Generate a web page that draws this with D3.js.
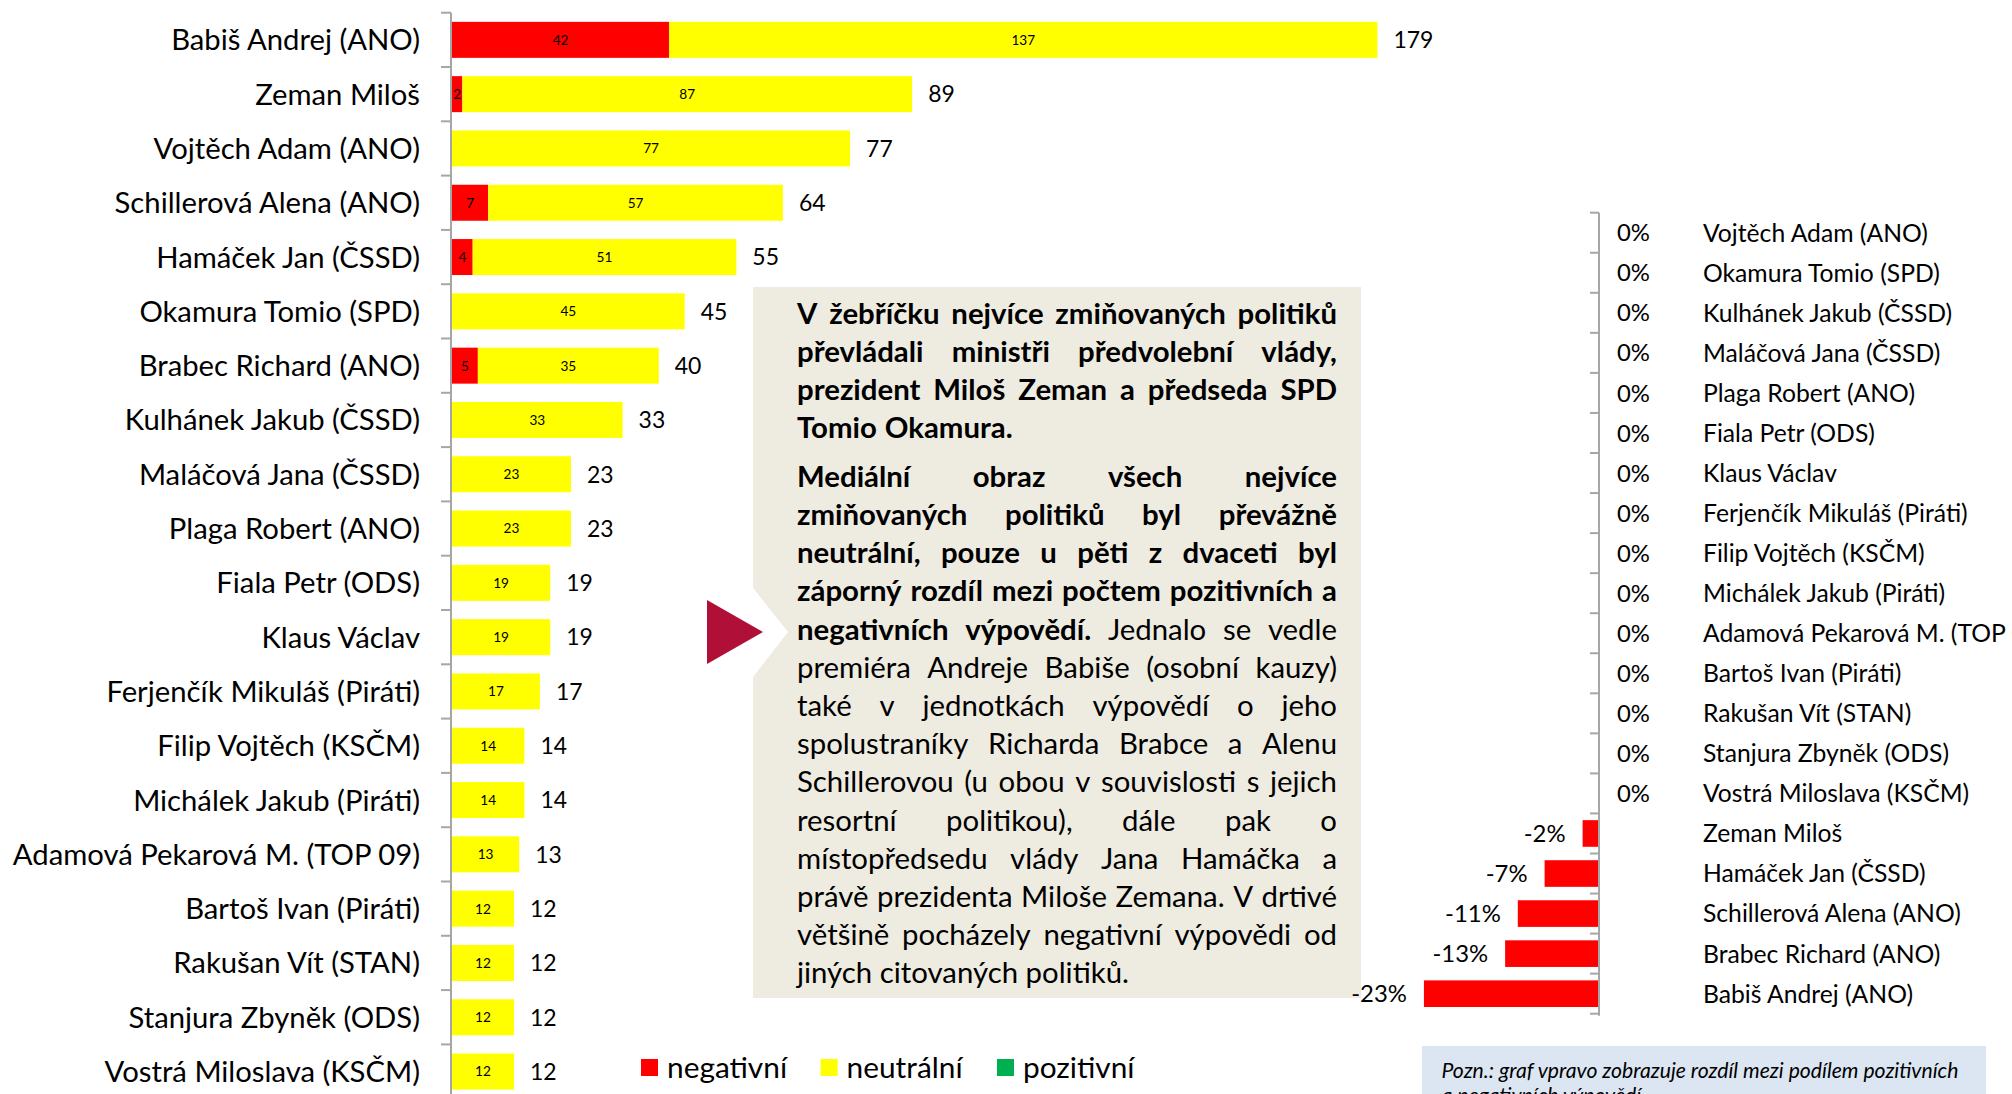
<!DOCTYPE html>
<html><head><meta charset="utf-8">
<script src="https://cdn.jsdelivr.net/npm/d3@7"></script>
<style>html,body{margin:0;padding:0;background:#fff;overflow:hidden}svg{display:block}</style>
</head><body>
<script>
// ---------- DATA ----------
const categories = ["Babiš Andrej (ANO)","Zeman Miloš","Vojtěch Adam (ANO)","Schillerová Alena (ANO)","Hamáček Jan (ČSSD)","Okamura Tomio (SPD)","Brabec Richard (ANO)","Kulhánek Jakub (ČSSD)","Maláčová Jana (ČSSD)","Plaga Robert (ANO)","Fiala Petr (ODS)","Klaus Václav","Ferjenčík Mikuláš (Piráti)","Filip Vojtěch (KSČM)","Michálek Jakub (Piráti)","Adamová Pekarová M. (TOP 09)","Bartoš Ivan (Piráti)","Rakušan Vít (STAN)","Stanjura Zbyněk (ODS)","Vostrá Miloslava (KSČM)"];
const negativni = [42,2,0,7,4,0,5,0,0,0,0,0,0,0,0,0,0,0,0,0];
const neutralni = [137,87,77,57,51,45,35,33,23,23,19,19,17,14,14,13,12,12,12,12];
const pozitivni = [0,0,0,0,0,0,0,0,0,0,0,0,0,0,0,0,0,0,0,0];
const seriesNames = ["negativní","neutrální","pozitivní"];

const diffCategories = ["Vojtěch Adam (ANO)","Okamura Tomio (SPD)","Kulhánek Jakub (ČSSD)","Maláčová Jana (ČSSD)","Plaga Robert (ANO)","Fiala Petr (ODS)","Klaus Václav","Ferjenčík Mikuláš (Piráti)","Filip Vojtěch (KSČM)","Michálek Jakub (Piráti)","Adamová Pekarová M. (TOP 09)","Bartoš Ivan (Piráti)","Rakušan Vít (STAN)","Stanjura Zbyněk (ODS)","Vostrá Miloslava (KSČM)","Zeman Miloš","Hamáček Jan (ČSSD)","Schillerová Alena (ANO)","Brabec Richard (ANO)","Babiš Andrej (ANO)"];
const diffValues = [0,0,0,0,0,0,0,0,0,0,0,0,0,0,0,-2.2,-7.3,-10.9,-12.6,-23.5];

const boxLines = [
  {t:"V žebříčku nejvíce zmiňovaných politiků", bold:99, just:true},
  {t:"převládali ministři předvolební vlády,", bold:99, just:true},
  {t:"prezident Miloš Zeman a předseda SPD", bold:99, just:true},
  {t:"Tomio Okamura.", bold:99, just:false, par:true},
  {t:"Mediální obraz všech nejvíce", bold:99, just:true},
  {t:"zmiňovaných politiků byl převážně", bold:99, just:true},
  {t:"neutrální, pouze u pěti z dvaceti byl", bold:99, just:true},
  {t:"záporný rozdíl mezi počtem pozitivních a", bold:99, just:true},
  {t:"negativních výpovědí. Jednalo se vedle", bold:2, just:true},
  {t:"premiéra Andreje Babiše (osobní kauzy)", bold:0, just:true},
  {t:"také v jednotkách výpovědí o jeho", bold:0, just:true},
  {t:"spolustraníky Richarda Brabce a Alenu", bold:0, just:true},
  {t:"Schillerovou (u obou v souvislosti s jejich", bold:0, just:true},
  {t:"resortní politikou), dále pak o", bold:0, just:true},
  {t:"místopředsedu vlády Jana Hamáčka a", bold:0, just:true},
  {t:"právě prezidenta Miloše Zemana. V drtivé", bold:0, just:true},
  {t:"většině pocházely negativní výpovědi od", bold:0, just:true},
  {t:"jiných citovaných politiků.", bold:0, just:false}
];
const noteLines = ["Pozn.: graf vpravo zobrazuje rozdíl mezi podílem pozitivních","a negativních výpovědí."];

// ---------- SETUP ----------
const W = 2012, H = 1094;
const FONT = "Lato, 'Open Sans', 'DejaVu Sans', sans-serif";
const colors = {neg:"#FF0000", neu:"#FFFF00", poz:"#00B050", axis:"#A6A6A6"};
const svg = d3.select("body").append("svg").attr("width", W).attr("height", H)
  .style("font-family", FONT);

function measure(str, size, weight, style){
  const t = svg.append("text").attr("font-size", size).attr("font-weight", weight||400)
    .attr("font-style", style||"normal").text(str);
  const w = t.node().getComputedTextLength(); t.remove(); return w;
}
function fit(str, target, weight, style){ return 100 * target / measure(str, 100, weight, style); }

// ---------- LEFT CHART ----------
const yL = d3.scaleBand().domain(categories).range([12.7, 12.7 + 20*54.3]).paddingInner(0.337).paddingOuter(0.1685);
const xL = d3.scaleLinear().domain([0, 180]).range([452, 452 + 180*5.17]);
const rows = categories.map((c,i)=>({c, neg:negativni[i], neu:neutralni[i], poz:pozitivni[i]}));
const stack = d3.stack().keys(["neg","neu","poz"])(rows);
const segColors = [colors.neg, colors.neu, colors.poz];

const gL = svg.append("g");
stack.forEach((layer, k)=>{
  gL.selectAll(null).data(layer.filter(d=>d[1]-d[0]>0)).enter().append("rect")
    .attr("x", d=>xL(d[0])).attr("width", d=>xL(d[1])-xL(d[0]))
    .attr("y", d=>yL(d.data.c)).attr("height", yL.bandwidth())
    .attr("fill", segColors[k]);
});
const innerSize = fit("137", 23.7);
stack.forEach((layer)=>{
  gL.selectAll(null).data(layer.filter(d=>d[1]-d[0]>0)).enter().append("text")
    .attr("x", d=>(xL(d[0])+xL(d[1]))/2).attr("y", d=>yL(d.data.c)+yL.bandwidth()/2)
    .attr("dy","0.36em").attr("text-anchor","middle").attr("font-size", innerSize).attr("fill","#000")
    .text(d=>d[1]-d[0]);
});
const totalSize = fit("179", 40);
gL.selectAll(null).data(rows).enter().append("text")
  .attr("x", d=>xL(d.neg+d.neu+d.poz)+16).attr("y", d=>yL(d.c)+yL.bandwidth()/2)
  .attr("dy","0.36em").attr("font-size", totalSize).attr("fill","#000")
  .text(d=>d.neg+d.neu+d.poz);
const catSize = fit("Babiš Andrej (ANO)", 249);
gL.selectAll(null).data(categories).enter().append("text")
  .attr("x", 420).attr("y", d=>yL(d)+yL.bandwidth()/2).attr("dy","0.36em")
  .attr("text-anchor","end").attr("font-size", catSize).attr("fill","#000").text(d=>d);
// axis
gL.append("line").attr("x1",451).attr("x2",451).attr("y1",yL.range()[0]).attr("y2",yL.range()[1])
  .attr("stroke",colors.axis).attr("stroke-width",2);
gL.selectAll(null).data(d3.range(21)).enter().append("line")
  .attr("x1",441).attr("x2",451).attr("y1",i=>yL.range()[0]+i*yL.step()).attr("y2",i=>yL.range()[0]+i*yL.step())
  .attr("stroke",colors.axis).attr("stroke-width",2);

// ---------- TEXT BOX ----------
svg.append("rect").attr("x",753).attr("y",287).attr("width",608).attr("height",711).attr("fill","#EEECE1");
svg.append("polygon").attr("points","753,588 788,632 753,677").attr("fill","#fff");
svg.append("polygon").attr("points","707,600 763,632 707,664").attr("fill","#B01038");

const boxSize = fit("jiných citovaných politiků.", 332);
const boxLeft = 797, boxRight = 1337;
const gB = svg.append("g").attr("font-size", boxSize).attr("fill","#000");
const spaceW = measure("a a", boxSize) - measure("aa", boxSize);
boxLines.forEach((ln, i)=>{
  const y = 313 + i*38.2 + (i>=4 ? 10.5 : 0);
  const words = ln.t.split(" ").map((w,j)=>({w, b: j < ln.bold}));
  words.forEach(o=>{ o.width = measure(o.w, boxSize, o.b?700:400); });
  const sum = d3.sum(words, o=>o.width);
  const gap = ln.just ? (boxRight-boxLeft-sum)/(words.length-1) : spaceW*(words.some(o=>o.b)?1.05:1);
  let x = boxLeft;
  words.forEach(o=>{
    gB.append("text").attr("x", x).attr("y", y).attr("dy","0.36em")
      .attr("font-weight", o.b?700:400).text(o.w);
    x += o.width + gap;
  });
});

// ---------- RIGHT CHART ----------
const yR = d3.scaleBand().domain(diffCategories).range([212.7, 212.7 + 20*40.05]).paddingInner(0.335).paddingOuter(0.1675);
const xR = d3.scaleLinear().domain([-25, 0]).range([1599 - 25*7.45, 1599]);
const diffRows = diffCategories.map((c,i)=>({c, v:diffValues[i]}));
const gR = svg.append("g");
gR.selectAll(null).data(diffRows.filter(d=>d.v<0)).enter().append("rect")
  .attr("x", d=>xR(d.v)).attr("width", d=>xR(0)-xR(d.v))
  .attr("y", d=>yR(d.c)).attr("height", yR.bandwidth()).attr("fill", colors.neg);
const pctSize = fit("0%", 33);
gR.selectAll(null).data(diffRows).enter().append("text")
  .attr("x", d=> d.v<0 ? xR(d.v)-17 : xR(0)+18)
  .attr("text-anchor", d=> d.v<0 ? "end" : "start")
  .attr("y", d=>yR(d.c)+yR.bandwidth()/2).attr("dy","0.36em")
  .attr("font-size", pctSize).attr("fill","#000")
  .text(d=> (d.v<0 ? "-" : "") + Math.abs(Math.round(d.v)) + "%");
const nameSize = fit("Vojtěch Adam (ANO)", 225);
gR.selectAll(null).data(diffCategories).enter().append("text")
  .attr("x", 1703).attr("y", d=>yR(d)+yR.bandwidth()/2).attr("dy","0.36em")
  .attr("font-size", nameSize).attr("fill","#000").text(d=>d);
gR.append("line").attr("x1",1599).attr("x2",1599).attr("y1",yR.range()[0]).attr("y2",yR.range()[1]+2)
  .attr("stroke",colors.axis).attr("stroke-width",2);
gR.selectAll(null).data(d3.range(21)).enter().append("line")
  .attr("x1",1590).attr("x2",1599).attr("y1",i=>yR.range()[0]+i*yR.step()).attr("y2",i=>yR.range()[0]+i*yR.step())
  .attr("stroke",colors.axis).attr("stroke-width",2);

// ---------- LEGEND ----------
const legX = [641, 820.6, 997];
const legSize = fit("neutrální", 116);
const gLeg = svg.append("g");
seriesNames.forEach((n,i)=>{
  gLeg.append("rect").attr("x",legX[i]).attr("y",1059).attr("width",17).attr("height",17).attr("fill",segColors[i]);
  gLeg.append("text").attr("x",legX[i]+26).attr("y",1067.5).attr("dy","0.36em")
    .attr("font-size",legSize).attr("fill","#000").text(n);
});

// ---------- NOTE ----------
svg.append("rect").attr("x",1422).attr("y",1046).attr("width",564).attr("height",60).attr("fill","#DCE6F2");
const noteSize = fit(noteLines[0], 517, 400, "italic");
noteLines.forEach((t,i)=>{
  svg.append("text").attr("x",1441.5).attr("y",1070 + i*25).attr("dy","0.36em")
    .attr("font-size",noteSize).attr("font-style","italic").attr("fill","#000").text(t);
});
</script>
</body></html>
